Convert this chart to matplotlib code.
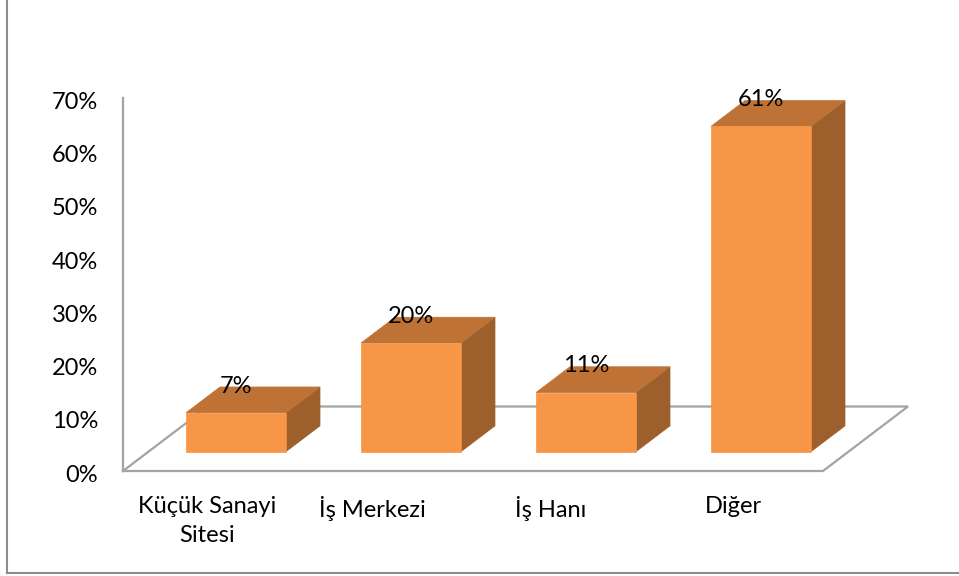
import numpy as np
import matplotlib
matplotlib.use("Agg")
import matplotlib.pyplot as plt
from matplotlib.patches import Polygon
from matplotlib.lines import Line2D
from matplotlib.ticker import PercentFormatter
from matplotlib.transforms import ScaledTranslation

plt.rcParams["font.family"] = ["Lato", "DejaVu Sans"]

# data
categories = ["Küçük Sanayi\nSitesi", "İş Merkezi", "İş Hanı", "Diğer"]
shares = [0.073, 0.204, 0.111, 0.611]
label_nudge = [-0.02, -0.075, -0.055, -0.01]

front_col = "#F79646"
top_col = "#BE7235"
side_col = "#9D5F2B"
grid_col = "#A3A3A3"

fig = plt.figure(figsize=(9.59, 5.76), dpi=100)
W, H = 959, 576
ax = fig.add_axes([123 / W, (H - 471) / H, (908 - 123) / W, (471 - 98.3) / H])
ax.set_xlim(-0.5, 3.5 + 85 / 175)
ax.set_ylim(0, 0.7)

# oblique depth of the floor, in data units
DX, DY = 85 / 175, 64.5 / 532.4
f_front, f_back = 0.3, 0.7
bar_w = 100 / 175

# floor
n = len(shares)
floor_x = [-0.5, n - 0.5, n - 0.5 + DX, -0.5 + DX, -0.5]
floor_y = [0, 0, DY, DY, 0]
ax.plot(floor_x, floor_y, color=grid_col, lw=1.6, clip_on=False, zorder=1,
        solid_joinstyle="miter")

for i, v in enumerate(shares):
    x0 = i + f_front * DX - bar_w / 2
    x1 = x0 + bar_w
    yb = f_front * DY
    yt = yb + v
    ddx = (f_back - f_front) * DX
    ddy = (f_back - f_front) * DY
    side = [(x1, yb), (x1 + ddx, yb + ddy), (x1 + ddx, yt + ddy), (x1, yt)]
    top = [(x0, yt), (x1, yt), (x1 + ddx, yt + ddy), (x0 + ddx, yt + ddy)]
    front = [(x0, yb), (x1, yb), (x1, yt), (x0, yt)]
    for pts, c in [(side, side_col), (top, top_col), (front, front_col)]:
        ax.add_patch(Polygon(pts, closed=True, facecolor=c, edgecolor=c,
                             lw=0.5, zorder=3, clip_on=False))
    ax.text((x0 + x1) / 2, yt + 0.05, f"{v:.0%}", ha="center", va="center",
            fontsize=17, color="black", zorder=5)

# axes styling
for s in ["top", "right", "bottom"]:
    ax.spines[s].set_visible(False)
ax.spines["left"].set_color(grid_col)
ax.spines["left"].set_linewidth(1.6)
ax.set_yticks(np.arange(0, 0.71, 0.1))
ax.yaxis.set_major_formatter(PercentFormatter(1.0, decimals=0))
ax.tick_params(axis="y", length=0, pad=18, labelsize=17)
shift = ScaledTranslation(0, -2 / 100, fig.dpi_scale_trans)
for lab in ax.get_yticklabels():
    lab.set_transform(lab.get_transform() + shift)
ax.set_xticks(np.arange(n) + np.array(label_nudge))
ax.set_xticklabels(categories, fontsize=17, linespacing=1.5)
ax.tick_params(axis="x", length=0, pad=18)
ax.patch.set_visible(False)

# chart frame (left and bottom edges visible)
fx, fy = 7.3 / W, (H - 573.3) / H
fig.add_artist(Line2D([fx, fx], [fy, 1.0], color="#8C8C8C", lw=1.5))
fig.add_artist(Line2D([fx, 1.0], [fy, fy], color="#8C8C8C", lw=1.5))

fig.savefig("out.png", dpi=100)
